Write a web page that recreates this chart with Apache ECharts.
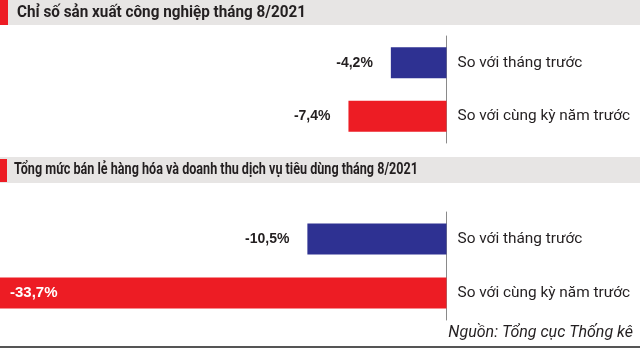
<!DOCTYPE html>
<html><head><meta charset="utf-8">
<script src="https://cdn.jsdelivr.net/npm/echarts@6/dist/echarts.min.js"></script>
<style>html,body{margin:0;padding:0;background:#fff}#c{width:640px;height:353px}</style>
</head><body><div id="c"></div>
<script>
const categories = ['So với tháng trước', 'So với cùng kỳ năm trước'];
const industryValues = [-4.2, -7.4];
const retailValues = [-10.5, -33.7];
const titles = ['Chỉ số sản xuất công nghiệp tháng 8/2021', 'Tổng mức bán lẻ hàng hóa và doanh thu dịch vụ tiêu dùng tháng 8/2021'];
const sourceText = 'Nguồn: Tổng cục Thống kê';

const BLUE = '#2e3192', RED = '#ed1c24', INK = '#231f20';
const fmt = v => String(v).replace('.', ',') + '%';

// measure header widths to compress into condensed look
const mctx = document.createElement('canvas').getContext('2d');
const headFont = 'bold 16.5px Roboto';
function fitScale(text, target) { mctx.font = headFont; return target / mctx.measureText(text).width; }

function makeData(vals) {
  return vals.map((v, i) => {
    const d = { value: v, itemStyle: { color: i === 0 ? BLUE : RED } };
    if (v < -20) d.label = { position: 'insideLeft', distance: 10, color: '#fff', fontSize: 15 };
    return d;
  });
}

const chart = echarts.init(document.getElementById('c'), null, { renderer: 'canvas' });
const xAxisBase = { type: 'value', min: -33.7, max: 0, show: false };
const yAxisBase = {
  type: 'category', data: categories, inverse: true, position: 'right',
  axisLine: { show: true, lineStyle: { color: '#8a8a8a', width: 1 } },
  axisTick: { show: false },
  axisLabel: { margin: 11, color: INK, fontFamily: 'Roboto', fontSize: 15.4, align: 'left' }
};
const labelBase = {
  show: true, position: 'left', distance: 18, formatter: p => fmt(p.value),
  color: INK, fontFamily: 'Liberation Sans, Arial, sans-serif', fontWeight: 'bold', fontSize: 14
};
const s1 = fitScale(titles[0], 289), s2 = fitScale(titles[1], 404);
chart.setOption({
  animation: false,
  grid: [
    { left: 0, right: 193.5, top: 36, height: 107 },
    { left: 0, right: 193.5, top: 212, height: 108 }
  ],
  xAxis: [Object.assign({ gridIndex: 0 }, xAxisBase), Object.assign({ gridIndex: 1 }, xAxisBase)],
  yAxis: [Object.assign({ gridIndex: 0 }, yAxisBase), Object.assign({ gridIndex: 1 }, yAxisBase)],
  series: [
    { type: 'bar', xAxisIndex: 0, yAxisIndex: 0, barWidth: 31, data: makeData(industryValues), label: labelBase },
    { type: 'bar', xAxisIndex: 1, yAxisIndex: 1, barWidth: 31, data: makeData(retailValues), label: labelBase }
  ],
  graphic: [
    { type: 'rect', shape: { x: 0, y: 0, width: 640, height: 25 }, style: { fill: '#e7e5e4' } },
    { type: 'rect', shape: { x: 0, y: 0, width: 8, height: 25 }, style: { fill: RED } },
    { type: 'text', x: 17, y: 13, scaleX: s1, style: { text: titles[0], fill: INK, font: headFont, textVerticalAlign: 'middle' } },
    { type: 'rect', shape: { x: 0, y: 157, width: 640, height: 26 }, style: { fill: '#e7e5e4' } },
    { type: 'rect', shape: { x: 0, y: 159, width: 7, height: 23 }, style: { fill: RED } },
    { type: 'text', x: 14, y: 170, scaleX: s2, style: { text: titles[1], fill: INK, font: headFont, textVerticalAlign: 'middle' } },
    { type: 'text', x: 633, y: 333, style: { text: sourceText, fill: INK, font: 'italic 16px Roboto', textAlign: 'right', textVerticalAlign: 'middle' } },
    { type: 'rect', shape: { x: 0, y: 346, width: 640, height: 2 }, style: { fill: '#555' } }
  ]
});
</script></body></html>
